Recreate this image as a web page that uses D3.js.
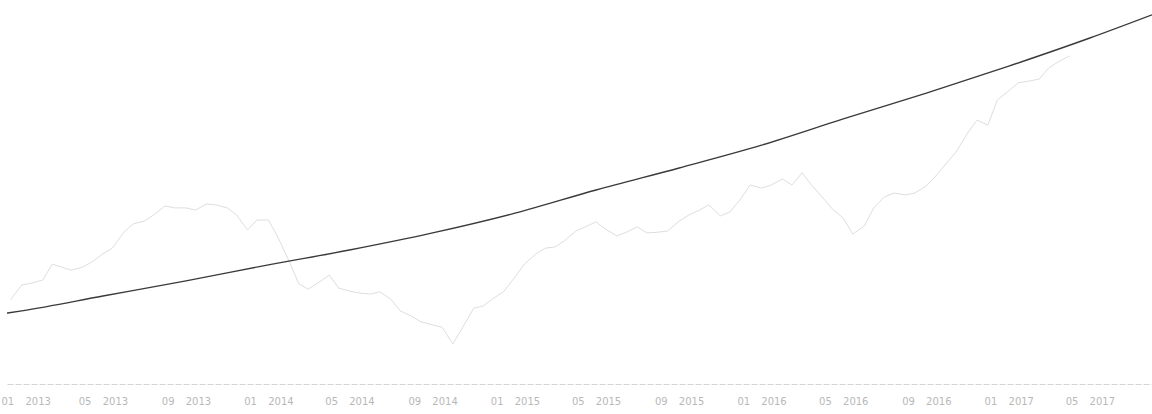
<!DOCTYPE html>
<html>
<head>
<meta charset="utf-8">
<script src="https://cdn.jsdelivr.net/npm/d3@7"></script>
<style>
  html, body { margin: 0; padding: 0; background: #ffffff; }
  svg { display: block; }
</style>
</head>
<body>
<svg id="chart" width="1152" height="414"></svg>
<script>
// ---- data ----
// price-like series, sampled on the 1st and 15th of each month
const priceDates = [
  "2012-12-15",
  "2013-01-01","2013-01-15","2013-02-01","2013-02-15","2013-03-01","2013-03-15","2013-04-01","2013-04-15",
  "2013-05-01","2013-05-15","2013-06-01","2013-06-15","2013-07-01","2013-07-15","2013-08-01","2013-08-15",
  "2013-09-01","2013-09-15","2013-10-01","2013-10-15","2013-11-01","2013-11-15","2013-12-01","2013-12-15",
  "2014-01-01","2014-01-15","2014-02-01","2014-02-15","2014-03-01","2014-03-15","2014-04-01","2014-04-15",
  "2014-05-01","2014-05-15","2014-06-01","2014-06-15","2014-07-01","2014-07-15","2014-08-01","2014-08-15",
  "2014-09-01","2014-09-15","2014-10-01","2014-10-15","2014-11-01","2014-11-15","2014-12-01","2014-12-15",
  "2015-01-01","2015-01-15","2015-02-01","2015-02-15","2015-03-01","2015-03-15","2015-04-01","2015-04-15",
  "2015-05-01","2015-05-15","2015-06-01","2015-06-15","2015-07-01","2015-07-15","2015-08-01","2015-08-15",
  "2015-09-01","2015-09-15","2015-10-01","2015-10-15","2015-11-01","2015-11-15","2015-12-01","2015-12-15",
  "2016-01-01","2016-01-15","2016-02-01","2016-02-15","2016-03-01","2016-03-15","2016-04-01","2016-04-15",
  "2016-05-01","2016-05-15","2016-06-01","2016-06-15","2016-07-01","2016-07-15","2016-08-01","2016-08-15",
  "2016-09-01","2016-09-15","2016-10-01","2016-10-15","2016-11-01","2016-11-15","2016-12-01","2016-12-15",
  "2017-01-01","2017-01-15","2017-02-01","2017-02-15","2017-03-01","2017-03-15","2017-04-01"
];
const priceValues = [
  21.1,
  25.0,25.5,26.3,30.5,29.7,28.9,29.7,31.1,
  33.2,34.7,38.9,41.1,41.8,43.4,45.8,45.3,
  45.3,44.7,46.3,46.1,45.3,43.4,39.5,42.1,
  42.1,37.6,31.1,25.3,23.9,25.5,27.6,24.2,
  23.4,22.9,22.6,23.2,21.3,18.2,16.8,15.3,
  14.5,13.9,9.5,13.7,18.9,19.5,21.6,23.2,
  27.1,30.5,33.2,34.7,35.0,36.6,39.2,40.3,
  41.6,39.7,37.9,38.9,40.3,38.7,38.9,39.2,
  41.8,43.4,44.7,46.1,43.2,44.2,47.6,51.3,
  50.5,51.3,52.9,51.3,54.5,51.3,47.9,45.0,
  42.6,38.4,40.5,45.3,48.2,49.2,48.7,49.2,
  51.1,53.7,57.1,60.0,65.0,68.4,67.1,73.7,
  76.1,78.2,78.7,79.2,82.1,83.7,85.3
];

// smooth growth curve
const trendDates = [
  "2012-12-10","2013-01-01","2013-05-01","2013-09-01","2014-01-01","2014-05-01","2014-09-01",
  "2015-01-01","2015-05-01","2015-09-01","2016-01-01","2016-05-01","2016-09-01",
  "2017-01-01","2017-05-01","2017-08-01"
];
const trendValues = [
  17.6,18.2,22.1,26.1,30.3,34.2,38.7,
  43.9,50.0,55.8,61.8,68.7,75.5,
  82.6,90.0,96.1
];

// x-axis domain and tick labels
const xDomain = ["2012-12-10", "2017-08-01"];
const tickDates = [
  "2013-01-01","2013-05-01","2013-09-01","2014-01-01","2014-05-01","2014-09-01",
  "2015-01-01","2015-05-01","2015-09-01","2016-01-01","2016-05-01","2016-09-01",
  "2017-01-01","2017-05-01"
];
const yDomain = [0, 100];

// ---- drawing ----
const parse = d3.utcParse("%Y-%m-%d");
const svg = d3.select("#chart");

const x = d3.scaleUtc()
  .domain(xDomain.map(parse))
  .range([7, 1152]);
const y = d3.scaleLinear()
  .domain(yDomain)
  .range([380, 0]);

const price = priceDates.map((d, i) => ({ date: parse(d), value: priceValues[i] }));
const trend = trendDates.map((d, i) => ({ date: parse(d), value: trendValues[i] }));

// x axis
const xAxis = d3.axisBottom(x)
  .tickValues(tickDates.map(parse))
  .tickFormat(d3.utcFormat("%m %Y"))
  .tickSize(0)
  .tickPadding(14);

const gx = svg.append("g")
  .attr("transform", "translate(0,384)")
  .call(xAxis);
gx.select(".domain")
  .attr("stroke", "#d4d4d4")
  .attr("stroke-width", 1)
  .attr("stroke-dasharray", "6,2");
gx.selectAll("text")
  .attr("fill", "#b8b8b8")
  .style("font-family", "'DejaVu Sans', sans-serif")
  .style("font-size", "10px")
  .style("word-spacing", "8px");

// keep the first label inside the left edge
gx.selectAll(".tick").each(function (d, i) {
  if (i === 0) {
    const t = d3.select(this).select("text");
    const px = x(d);
    t.attr("text-anchor", "start").attr("x", 1 - px);
  }
});

// price series
svg.append("path")
  .datum(price)
  .attr("fill", "none")
  .attr("stroke", "#dedede")
  .attr("stroke-width", 1)
  .attr("d", d3.line()
    .x(d => x(d.date))
    .y(d => y(d.value)));

// growth curve
svg.append("path")
  .datum(trend)
  .attr("fill", "none")
  .attr("stroke", "#3a3a3a")
  .attr("stroke-width", 1.4)
  .attr("d", d3.line()
    .curve(d3.curveMonotoneX)
    .x(d => x(d.date))
    .y(d => y(d.value)));
</script>
</body>
</html>
